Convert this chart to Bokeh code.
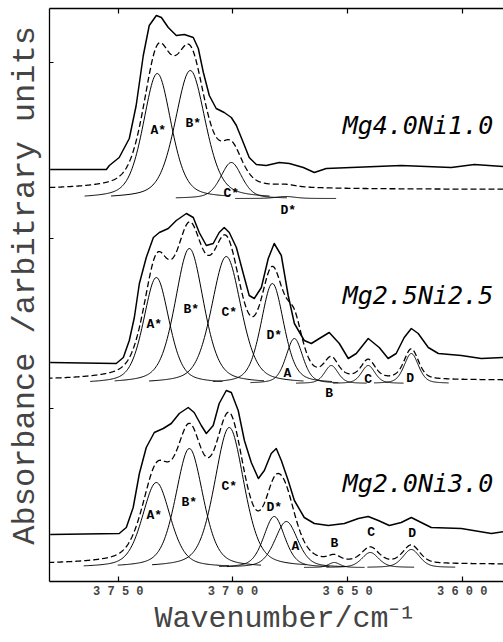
import numpy as np
from bokeh.plotting import figure
from bokeh.models import Range1d, LinearAxis, FixedTicker
from bokeh.core.properties import value
from bokeh.embed import file_html
from bokeh.resources import INLINE

# ---------------- observed spectra (wavenumber / cm-1, absorbance / arb.) ----
obs1_wn = [3779.7, 3755.2, 3753.9, 3749.6, 3745.2, 3742.2, 3739.1, 3736.5, 3733.4,
           3731.2, 3728.2, 3724.7, 3721.2, 3717.3, 3715.1, 3712.9, 3710.3, 3707.3,
           3703.8, 3700.7, 3698.5, 3695.5, 3692.9, 3689.8, 3685.5, 3679.8, 3675.4,
           3669.3, 3664.5, 3659.3, 3648.4, 3626.6, 3604.8, 3594.7, 3581.7]
obs1_ab = [412, 412, 416, 424, 443, 476, 526, 556, 566,
           564, 554, 546, 547, 544, 533, 509, 486, 473,
           469, 464, 456, 439, 424, 417, 416, 419, 418,
           414, 409, 413, 414, 416, 414, 417, 415]

obs2_wn = [3779.7, 3750.9, 3747.8, 3745.2, 3743.0, 3740.8, 3737.8, 3734.7, 3732.1,
           3728.2, 3724.7, 3720.3, 3717.3, 3714.7, 3711.6, 3708.6, 3706.0, 3703.8,
           3701.6, 3698.5, 3695.5, 3692.9, 3690.7, 3687.6, 3684.6, 3682.0, 3678.9,
           3675.9, 3673.2, 3668.9, 3665.8, 3662.3, 3658.0, 3653.6, 3649.7, 3646.2,
           3641.0, 3636.2, 3632.3, 3628.8, 3625.3, 3622.2, 3619.2, 3614.8, 3610.4,
           3600.4, 3591.7, 3581.7]
obs2_ab = [219, 218, 224, 241, 264, 298, 324, 344, 349,
           353, 361, 368, 364, 349, 336, 338, 349, 354,
           349, 334, 308, 286, 283, 294, 323, 338, 326,
           286, 258, 241, 238, 243, 249, 238, 223, 228,
           243, 234, 223, 228, 244, 253, 248, 234, 228,
           226, 223, 224]

obs3_wn = [3779.7, 3749.6, 3746.5, 3743.5, 3740.8, 3737.8, 3734.3, 3730.4, 3726.9,
           3723.4, 3719.5, 3716.9, 3713.8, 3711.6, 3708.6, 3706.0, 3702.9, 3700.7,
           3697.7, 3695.0, 3692.0, 3688.9, 3686.3, 3683.3, 3681.1, 3678.9, 3675.9,
           3673.2, 3668.9, 3664.5, 3658.4, 3651.4, 3645.3, 3641.0, 3636.6, 3631.8,
           3626.6, 3622.2, 3617.9, 3613.5, 3600.4, 3587.3, 3581.7]
obs3_ab = [47, 48, 54, 74, 108, 134, 149, 153, 158,
           168, 174, 169, 156, 148, 156, 178, 191, 189,
           171, 141, 119, 103, 111, 128, 133, 121, 101,
           81, 64, 58, 56, 58, 63, 65, 61, 56,
           59, 64, 59, 54, 53, 48, 50]

# ---------------- fitted bands -------------------------------------------------
p1_names = ["A*", "B*", "C*", "D*"]
p1_center = [3733.0, 3718.6, 3700.7, 3677.0]
p1_height = [125, 128, 36, 2]
p1_fwhm = [14.4, 15.7, 11.0, 10.0]
p1_band_base = 383
p1_fit_base = 392
p1_label_wn = [3732.6, 3717.3, 3700.7, 3675.9]
p1_label_ab = [451, 458, 388, 371]

p2_names = ["A*", "B*", "C*", "D*", "A", "B", "C", "D"]
p2_center = [3733.4, 3719.0, 3702.9, 3682.8, 3673.2, 3657.1, 3641.0, 3622.2]
p2_height = [106, 135, 127, 100, 45, 18, 18, 30]
p2_fwhm = [13.1, 14.8, 15.3, 11.8, 8.7, 7.0, 7.0, 7.4]
p2_band_base = 198
p2_fit_base = 201
p2_label_wn = [3734.3, 3718.2, 3701.6, 3682.0, 3676.3, 3658.0, 3641.0, 3622.7]
p2_label_ab = [257, 272, 269, 246, 208, 188, 202, 203]

p3_names = ["A*", "B*", "C*", "D*", "A", "B", "C", "D"]
p3_center = [3733.4, 3719.0, 3701.6, 3682.0, 3676.7, 3655.8, 3640.1, 3622.2]
p3_height = [85, 119, 140, 51, 46, 5, 15, 18]
p3_fwhm = [14.4, 14.2, 15.3, 10.9, 11.8, 6.0, 8.7, 8.7]
p3_band_base = 14
p3_fit_base = 17
p3_label_wn = [3734.3, 3719.0, 3701.6, 3682.0, 3672.8, 3655.8, 3639.7, 3621.8]
p3_label_ab = [66, 79, 95, 74, 35, 38, 49, 48]

samples = ["Mg4.0Ni1.0", "Mg2.5Ni2.5", "Mg2.0Ni3.0"]
sample_ab = [456, 286, 98]

x_ticks = [3750, 3700, 3650, 3600]
x_tick_labels = ["3 7 5 0", "3 7 0 0", "3 6 5 0", "3 6 0 0"]
y_marks = [173, 343, 519]

ETA = 0.4  # Lorentzian fraction of pseudo-Voigt band shape


def band(x, c, h, w):
    d = (x - c) / w
    g = np.exp(-4 * np.log(2) * d ** 2)
    lo = 1.0 / (1.0 + 4 * d ** 2)
    return h * ((1 - ETA) * g + ETA * lo)


p = figure(width=503, height=642, x_range=Range1d(3780, 3582), y_range=Range1d(0, 573),
           output_backend="svg", toolbar_location=None,
           min_border_left=49, min_border_right=0, min_border_top=8, min_border_bottom=61,
           x_axis_location=None, y_axis_location=None)
p.outline_line_color = None
p.xgrid.visible = False
p.ygrid.visible = False
p.background_fill_color = "white"
p.border_fill_color = "white"

grid = np.linspace(3582, 3780, 900)

panels = [
    (obs1_wn, obs1_ab, p1_names, p1_center, p1_height, p1_fwhm, p1_band_base, p1_fit_base, p1_label_wn, p1_label_ab),
    (obs2_wn, obs2_ab, p2_names, p2_center, p2_height, p2_fwhm, p2_band_base, p2_fit_base, p2_label_wn, p2_label_ab),
    (obs3_wn, obs3_ab, p3_names, p3_center, p3_height, p3_fwhm, p3_band_base, p3_fit_base, p3_label_wn, p3_label_ab),
]

for (ow, oa, names, cen, hei, fw, bbase, fbase, lwn, lab) in panels:
    # observed spectrum
    p.line(ow, oa, line_color="black", line_width=1.5, line_join="round")
    # sum of fitted bands
    total = np.zeros_like(grid)
    for c, h, w in zip(cen, hei, fw):
        total += band(grid, c, h, w)
    p.line(grid, fbase + total, line_color="black", line_width=1.3, line_dash="6 3")
    # individual bands
    for c, h, w in zip(cen, hei, fw):
        xs = np.linspace(c - 2.2 * w, c + 2.2 * w, 160)
        p.line(xs, bbase + band(xs, c, h, w), line_color="black", line_width=1.0)
    p.text(x=lwn, y=lab, text=names, text_font=value("Liberation Mono"),
           text_font_size="13px", text_font_style="bold", text_align="center",
           text_baseline="middle", text_color="black")

p.text(x=[3586.5] * 3, y=sample_ab, text=samples, text_font=value("DejaVu Sans Mono"),
       text_font_size="25px", text_font_style="italic", text_align="right",
       text_baseline="middle", text_color="black")

xb = LinearAxis(ticker=FixedTicker(ticks=x_ticks),
                major_label_overrides={t: s for t, s in zip(x_ticks, x_tick_labels)},
                major_tick_in=5, major_tick_out=0, minor_tick_line_color=None,
                axis_line_width=1.3, major_tick_line_width=1.2,
                major_label_text_font="Liberation Mono", major_label_text_font_size="12px",
                major_label_text_font_style="bold", major_label_standoff=3,
                axis_label="\u00a0Wavenumber/cm\u207b\u00b9", axis_label_text_font="Liberation Mono",
                axis_label_text_font_size="30px", axis_label_text_font_style="normal",
                axis_label_standoff=0)
p.add_layout(xb, "below")

xt = LinearAxis(ticker=FixedTicker(ticks=[], minor_ticks=x_ticks),
                major_tick_line_color=None, minor_tick_in=5, minor_tick_out=0,
                minor_tick_line_width=1.2, axis_line_width=1.3)
p.add_layout(xt, "above")

yl = LinearAxis(ticker=FixedTicker(ticks=[], minor_ticks=y_marks),
                major_tick_line_color=None, minor_tick_in=4, minor_tick_out=0,
                axis_line_width=1.3,
                axis_label="\u00a0Absorbance /arbitrary units", axis_label_text_font="Liberation Mono",
                axis_label_text_font_size="32px", axis_label_text_font_style="normal",
                axis_label_standoff=6)
p.add_layout(yl, "left")

open("out.html", "w").write(file_html(p, INLINE))
